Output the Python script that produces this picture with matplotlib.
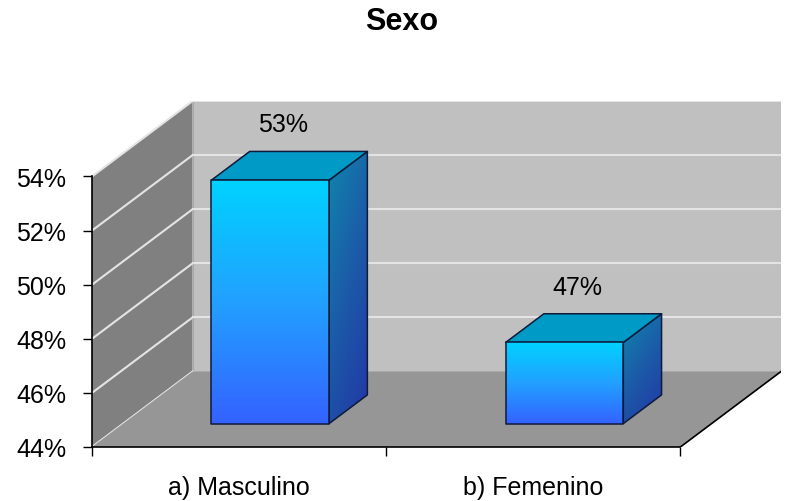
import numpy as np
import matplotlib.pyplot as plt
from matplotlib.patches import Polygon
from matplotlib.colors import LinearSegmentedColormap

# Chart data
categories = ['a) Masculino', 'b) Femenino']
values = [53, 47]
value_labels = ['53%', '47%']
yticks = [44, 46, 48, 50, 52, 54]
title = 'Sexo'

ymin, ymax = 44, 54
dx, dy = 0.342, 2.79      # 3D depth offset (category units, percent units)
bar_w = 0.40
d0, d1 = 0.31, 0.69       # bar depth range (fraction of full depth)

plt.rcParams['font.family'] = ['Liberation Sans', 'DejaVu Sans']
fig = plt.figure(figsize=(7.87, 5.02), dpi=100)
ax = fig.add_axes([92 / 787, 54 / 502, 689 / 787, 346 / 502])
xl, xr = -0.5, len(categories) - 0.5


def gradient_face(verts, colors, mode, z):
    poly = Polygon(verts, closed=True, facecolor='none', edgecolor='#0e1a3a',
                   lw=1.1, zorder=z + 0.1, joinstyle='round')
    ax.add_patch(poly)
    xs = [v[0] for v in verts]
    ys = [v[1] for v in verts]
    gx, gy = np.meshgrid(np.linspace(0, 1, 200), np.linspace(0, 1, 200))
    if mode == 'vertical':
        t = 1 - gy
    else:
        t = np.clip(0.65 * (1 - gy) + 0.35 * gx, 0, 1)
    cmap = LinearSegmentedColormap.from_list('g', colors)
    im = ax.imshow(t, cmap=cmap, vmin=0, vmax=1, origin='lower', aspect='auto',
                   extent=(min(xs), max(xs), min(ys), max(ys)), zorder=z,
                   interpolation='bilinear')
    im.set_clip_path(poly)


# walls and floor
back = Polygon([(xl + dx, ymin + dy), (xr + dx, ymin + dy), (xr + dx, ymax + dy),
                (xl + dx, ymax + dy)], facecolor='#c0c0c0', edgecolor='#a8a8a8', lw=0.8, zorder=0.5)
side = Polygon([(xl, ymin), (xl, ymax), (xl + dx, ymax + dy), (xl + dx, ymin + dy)],
               facecolor='#808080', edgecolor='none', zorder=0.5)
floor = Polygon([(xl, ymin), (xr, ymin), (xr + dx, ymin + dy), (xl + dx, ymin + dy)],
                facecolor='#969696', edgecolor='none', zorder=0.7)
for p in (back, side, floor):
    ax.add_patch(p)

for v in yticks:
    ax.plot([xl, xl + dx], [v, v + dy], color='#e4e4e4', lw=1.5, zorder=0.6)
    if v > ymin:
        ax.plot([xl + dx, xr + dx], [v + dy, v + dy], color='#e4e4e4', lw=1.5, zorder=0.6)

ax.plot([xr, xr + dx], [ymin, ymin + dy], color='black', lw=1.2, zorder=2)

# bars
for i, (v, lab) in enumerate(zip(values, value_labels)):
    fx0 = i - bar_w / 2 + d0 * dx
    fx1 = i + bar_w / 2 + d0 * dx
    fb = ymin + d0 * dy
    ft = v + d0 * dy
    ddx = (d1 - d0) * dx
    ddy = (d1 - d0) * dy
    gradient_face([(fx1, fb), (fx1 + ddx, fb + ddy), (fx1 + ddx, ft + ddy), (fx1, ft)],
                  ['#0f86ac', '#1c5aa8', '#2236a6'], 'diag', 3)
    top = Polygon([(fx0, ft), (fx1, ft), (fx1 + ddx, ft + ddy), (fx0 + ddx, ft + ddy)],
                  closed=True, facecolor='#009ac6', edgecolor='#0e1a3a', lw=1.1, zorder=3.2,
                  joinstyle='round')
    ax.add_patch(top)
    gradient_face([(fx0, fb), (fx1, fb), (fx1, ft), (fx0, ft)],
                  ['#00d2ff', '#22a0ff', '#3462ff'], 'vertical', 3.4)
    ax.text(i + 0.5 * dx - 0.02, v + d1 * dy + 1.0, lab, ha='center', va='center', fontsize=18)

ax.set_xlim(xl, xr + dx)
ax.set_ylim(ymin, ymax + dy)

for s in ('top', 'right'):
    ax.spines[s].set_visible(False)
ax.spines['left'].set_bounds(ymin, ymax)
ax.spines['bottom'].set_bounds(xl, xr)
for s in ('left', 'bottom'):
    ax.spines[s].set_linewidth(1.2)
    ax.spines[s].set_zorder(2)

ax.set_yticks(yticks)
ax.set_yticklabels([f'{v}%' for v in yticks])
ax.tick_params(axis='y', direction='out', length=6.5, width=1, pad=12, labelsize=18)
ax.set_xticks([xl, 0.5, xr])
ax.set_xticklabels(['', '', ''])
ax.set_xticks(range(len(categories)), minor=True)
ax.set_xticklabels(categories, minor=True)
ax.tick_params(axis='x', which='major', direction='out', length=6.5, width=1)
ax.tick_params(axis='x', which='minor', length=0, pad=20, labelsize=18)

fig.text(402 / 787, 1 - 22 / 502, title, ha='center', va='center', fontsize=22, fontweight='bold')

fig.savefig('out.png', dpi=100)
